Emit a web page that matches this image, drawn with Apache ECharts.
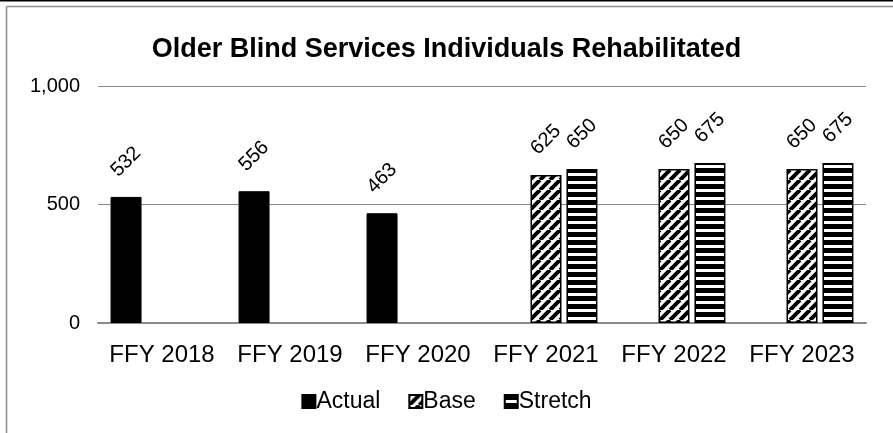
<!DOCTYPE html>
<html><head><meta charset="utf-8">
<script src="https://cdn.jsdelivr.net/npm/echarts@6/dist/echarts.min.js"></script>
<style>html,body{margin:0;padding:0;background:#fff}#c{width:893px;height:433px}</style>
</head><body><div id="c"></div>
<script>
const titleText = 'Older Blind Services Individuals Rehabilitated';
const categories = ['FFY 2018','FFY 2019','FFY 2020','FFY 2021','FFY 2022','FFY 2023'];
const actual = [532, 556, 463, null, null, null];
const base = [null, null, null, 625, 650, 650];
const stretch = [null, null, null, 650, 675, 675];
const yTicks = [0, 500, 1000];

function diagPattern(){
  const s = 10;
  const c = document.createElement('canvas'); c.width = s; c.height = s;
  const g = c.getContext('2d');
  g.fillStyle = '#fff'; g.fillRect(0,0,s,s);
  g.strokeStyle = '#000'; g.lineWidth = 4;
  g.beginPath();
  for (let k=-s;k<=2*s;k+=s){ g.moveTo(k,s); g.lineTo(k+s,0); }
  g.stroke();
  return c;
}
function horizPattern(){
  const c = document.createElement('canvas'); c.width = 8; c.height = 8;
  const g = c.getContext('2d');
  g.fillStyle = '#fff'; g.fillRect(0,0,8,8);
  g.fillStyle = '#000'; g.fillRect(0,0,8,5);
  return c;
}
const F = '"Liberation Sans", Arial, sans-serif';
const chart = echarts.init(document.getElementById('c'), null, {renderer:'canvas'});
const lbl = {show:true, position:'top', distance:35, rotate:45, align:'center', verticalAlign:'middle', color:'#000', fontFamily:F, fontSize:20};
chart.setOption({
  animation:false,
  title:{text:titleText, left:'center', top:31, textStyle:{fontFamily:F, fontWeight:'bold', fontSize:27, color:'#000'}},
  graphic:[
    {type:'line', shape:{x1:0,y1:0.5,x2:893,y2:0.5}, style:{stroke:'#000', lineWidth:2}},
    {type:'line', shape:{x1:6.5,y1:6.5,x2:893,y2:6.5}, style:{stroke:'#8c8c8c', lineWidth:1.5}},
    {type:'line', shape:{x1:6.5,y1:6.5,x2:6.5,y2:433}, style:{stroke:'#8c8c8c', lineWidth:1.5}}
  ],
  legend:{bottom:15, left:'center', icon:'rect', itemWidth:13, itemHeight:13, itemGap:28,
    textStyle:{fontFamily:F, fontSize:23, color:'#000', padding:[0,0,0,-4]},
    data:['Actual','Base','Stretch']},
  grid:{left:98, right:27, top:86, bottom:110, containLabel:false},
  xAxis:{type:'category', data:categories, axisTick:{show:false},
    axisLine:{lineStyle:{color:'#898989', width:2}},
    axisLabel:{interval:0, fontFamily:F, fontSize:24, color:'#000', margin:20}},
  yAxis:{type:'value', min:0, max:1000, interval:500,
    axisLine:{show:false}, axisTick:{show:false},
    splitLine:{lineStyle:{color:'#898989', width:1.2}},
    axisLabel:{fontFamily:F, fontSize:20, color:'#000', margin:18,
      formatter:v=> yTicks.includes(v) ? v.toLocaleString('en-US') : ''}},
  series:[
    {name:'Actual', type:'bar', data:actual, barWidth:31, barGap:'16%',
      itemStyle:{color:'#000', borderColor:'#000', borderWidth:1}, label:lbl},
    {name:'Base', type:'bar', data:base, barWidth:31, barGap:'16%',
      itemStyle:{color:{image:diagPattern(), repeat:'repeat'}, borderColor:'#000', borderWidth:1.5}, label:lbl},
    {name:'Stretch', type:'bar', data:stretch, barWidth:31, barGap:'16%',
      itemStyle:{color:{image:horizPattern(), repeat:'repeat'}, borderColor:'#000', borderWidth:1.5}, label:lbl}
  ]
});
</script></body></html>
